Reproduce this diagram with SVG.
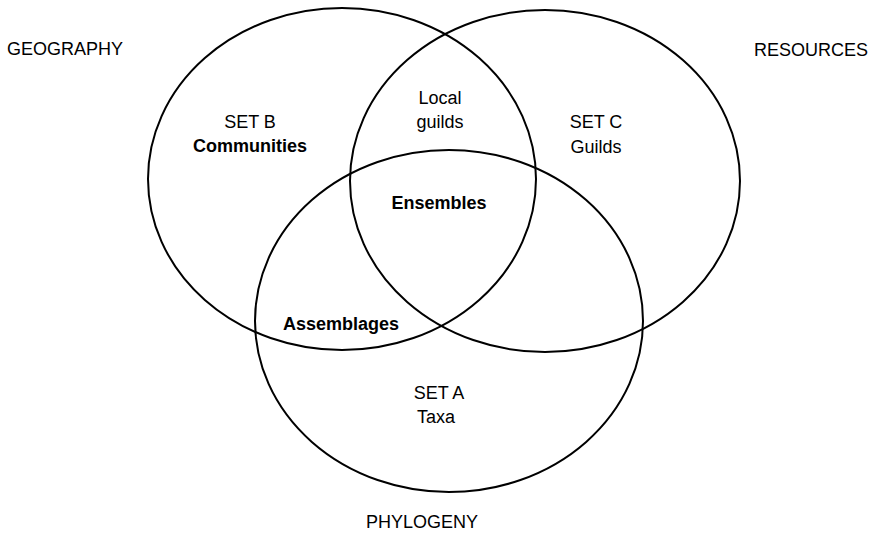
<svg xmlns="http://www.w3.org/2000/svg" width="870" height="535" viewBox="0 0 870 535">
  <style>
    .set { fill: none; stroke: #000; stroke-width: 2; }
    text { font-family: "Liberation Sans", Arial, sans-serif; font-size: 18px; fill: #000; text-anchor: middle; }
    .b { font-weight: bold; }
    .axis { text-anchor: start; }
  </style>
  <rect width="870" height="535" fill="#fff"/>
  <g id="setB">
    <ellipse class="set" cx="342" cy="179" rx="194" ry="171"/>
    <text x="250" y="128">SET B</text>
    <text class="b" x="250" y="152">Communities</text>
  </g>
  <g id="setC">
    <ellipse class="set" cx="545" cy="181" rx="195" ry="171"/>
    <text x="596" y="128">SET C</text>
    <text x="596" y="153">Guilds</text>
  </g>
  <g id="setA">
    <ellipse class="set" cx="449" cy="321" rx="194" ry="171"/>
    <text x="439" y="399">SET A</text>
    <text x="436" y="423">Taxa</text>
  </g>
  <g id="localGuilds">
    <text x="440" y="104">Local</text>
    <text x="440" y="128">guilds</text>
  </g>
  <g id="ensembles">
    <text class="b" x="439" y="209">Ensembles</text>
  </g>
  <g id="assemblages">
    <text class="b" x="341" y="330">Assemblages</text>
  </g>
  <g id="labels">
    <text class="axis" x="7" y="55">GEOGRAPHY</text>
    <text class="axis" x="754" y="56">RESOURCES</text>
    <text x="422" y="528">PHYLOGENY</text>
  </g>
  <g id="connectors"/>
</svg>
